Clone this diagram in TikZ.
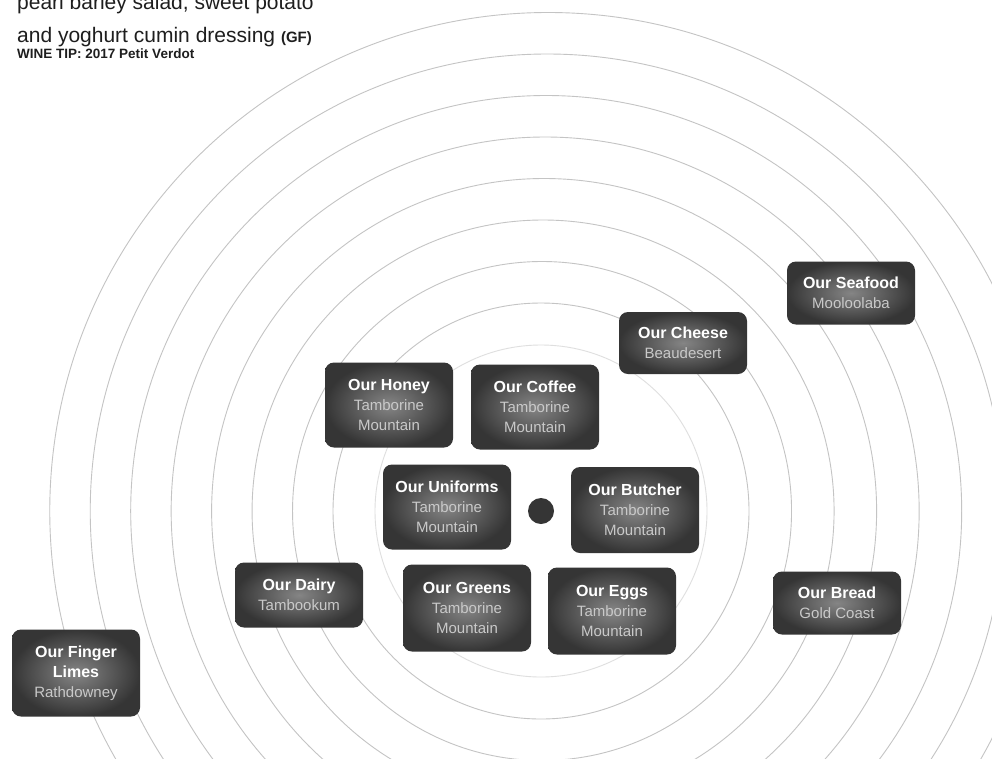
\documentclass[tikz,border=0pt]{standalone}
\usepackage{fontspec}
\setmainfont{Liberation Sans}
\usetikzlibrary{calc}
\usetikzlibrary{shapes}
\definecolor{ringgray}{HTML}{C4C4C4}
\definecolor{boxedge}{HTML}{353535}
\definecolor{boxmid}{HTML}{858585}
\definecolor{subgray}{HTML}{C9C9C9}
\definecolor{inkgray}{HTML}{1E1E1E}
\tikzset{
  ring/.style={draw=ringgray, line width=0.9pt},
  farmbox/.style={rounded corners=9pt, inner color=boxmid, outer color=boxedge,
    minimum width=128pt, inner sep=0pt, align=center, text=white,
    font=\fontsize{15}{20}\selectfont},
  menutext/.style={anchor=base west, inner sep=0pt, fill=white, text=inkgray}
}
\newcommand{\sub}[1]{{\color{subgray}#1}}
\newcommand{\ttl}[1]{{\bfseries\fontsize{16}{20}\selectfont #1}}
\newcommand{\farm}[5]{\node[farmbox, minimum height=#3pt] (#1) at (#2) {\ttl{#4}\\#5};}

\begin{document}
\begin{tikzpicture}[x=1pt,y=-1pt]
\useasboundingbox (0,0) rectangle (992,758);
\clip (0,0) rectangle (992,758);
\fill[white] (0,0) rectangle (992,758);
% rings
\draw[ring, draw=ringgray!55] (541,511) circle[radius=166];
\foreach \k in {0,...,7}{
  \pgfmathsetmacro{\rr}{208+41.5*\k}
  \draw[ring] ({541+0.025*(\rr-208)},511) circle[radius=\rr];
}
% menu text
\node[menutext, font=\fontsize{21}{25}\selectfont] (dish1) at (17,9) {pearl barley salad, sweet potato};
\node[menutext, font=\fontsize{21}{25}\selectfont] (dish2) at (17,42) {and yoghurt cumin dressing {\bfseries\fontsize{15}{18}\selectfont(GF)}};
\node[menutext, font=\bfseries\fontsize{13.5}{16}\selectfont] (winetip) at (17,58) {WINE TIP: 2017 Petit Verdot};
% hub
\node[circle, fill=boxedge, minimum size=26pt, inner sep=0pt] (hub) at (541,511) {};
% top
\farm{seafood}{851,293}{63}{Our Seafood}{\sub{Mooloolaba}}
\farm{cheese}{683,343}{62}{Our Cheese}{\sub{Beaudesert}}
\farm{honey}{389,405}{85}{Our Honey}{\sub{Tamborine}\\\sub{Mountain}}
\farm{coffee}{535,407}{85}{Our Coffee}{\sub{Tamborine}\\\sub{Mountain}}
% middle
\farm{uniforms}{447,507}{85}{Our Uniforms}{\sub{Tamborine}\\\sub{Mountain}}
\farm{butcher}{635,510}{86}{Our Butcher}{\sub{Tamborine}\\\sub{Mountain}}
% bottom
\farm{dairy}{299,595}{65}{Our Dairy}{\sub{Tambookum}}
\farm{greens}{467,608}{87}{Our Greens}{\sub{Tamborine}\\\sub{Mountain}}
\farm{eggs}{612,611}{87}{Our Eggs}{\sub{Tamborine}\\\sub{Mountain}}
\farm{bread}{837,603}{63}{Our Bread}{\sub{Gold Coast}}
\farm{limes}{76,673}{87}{Our Finger}{\ttl{Limes}\\\sub{Rathdowney}}
\end{tikzpicture}
\end{document}
